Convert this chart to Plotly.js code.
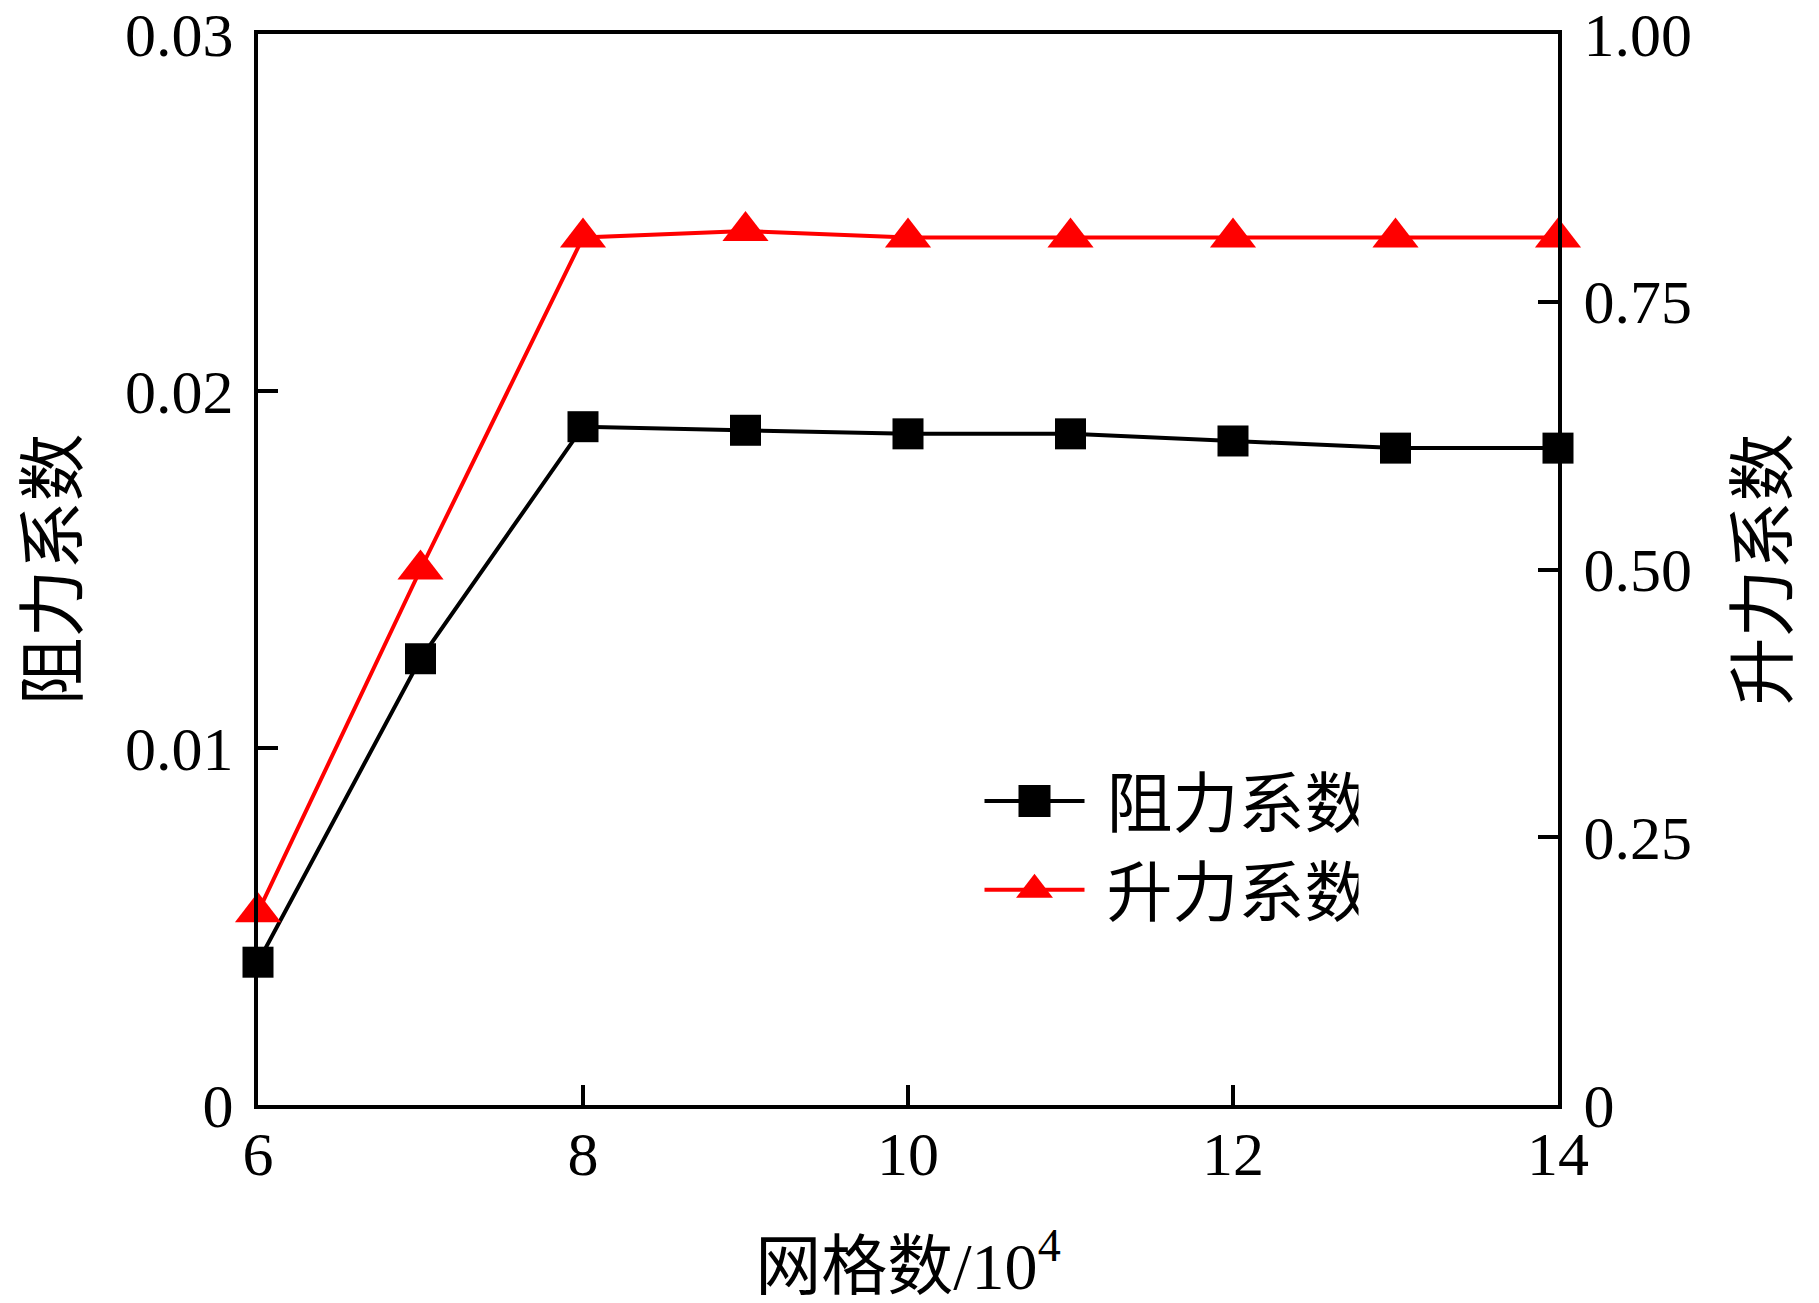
<!DOCTYPE html>
<html>
<head>
<meta charset="utf-8">
<script src="https://cdn.plot.ly/plotly-3.0.1.min.js"></script>
<style>
  body { margin: 0; background: #fff; }
  #chart { width: 1819px; height: 1303px; }
</style>
</head>
<body>
<div id="chart"></div>
<script>
// grid count (x10^4) and the two coefficients
const meshCounts = [6, 7, 8, 9, 10, 11, 12, 13, 14];
const dragCoef = [0.0040, 0.0125, 0.0190, 0.0189, 0.0188, 0.0188, 0.0186, 0.0184, 0.0184];
const liftCoef = [0.180, 0.500, 0.810, 0.816, 0.810, 0.810, 0.810, 0.810, 0.810];

const xTicks = [6, 8, 10, 12, 14];
const dragTicks = [0, 0.01, 0.02, 0.03];
const dragTickText = ['0', '0.01', '0.02', '0.03'];
const liftTicks = [0, 0.25, 0.5, 0.75, 1];
const liftTickText = ['0', '0.25', '0.50', '0.75', '1.00'];

const FONT = 'Liberation Serif, "Times New Roman", "Noto Sans CJK SC", serif';
const axisBase = {
    showline: true,
    linecolor: '#000',
    linewidth: 4,
    ticks: 'inside',
    ticklen: 20,
    tickwidth: 4,
    tickcolor: '#000',
    showgrid: false,
    zeroline: false,
    ticklabeloverflow: 'allow',
    tickfont: { family: FONT, size: 62, color: '#000' },
    fixedrange: true
};

const traces = [
    {
        type: 'scatter',
        mode: 'lines+markers',
        name: '阻力系数',
        x: meshCounts,
        y: dragCoef,
        yaxis: 'y',
        cliponaxis: false,
        line: { color: '#000', width: 4 },
        marker: { symbol: 'square', size: 31, color: '#000' }
    },
    {
        type: 'scatter',
        mode: 'lines+markers',
        name: '升力系数',
        x: meshCounts,
        y: liftCoef,
        yaxis: 'y2',
        cliponaxis: false,
        line: { color: '#ff0000', width: 4 },
        marker: { symbol: 'triangle-up', size: 40, color: '#ff0000' }
    }
];

const layout = {
    width: 1819,
    height: 1303,
    margin: { l: 258, r: 261, t: 34, b: 198 },
    paper_bgcolor: '#fff',
    plot_bgcolor: '#fff',
    font: { family: FONT, color: '#000' },
    showlegend: true,
    legend: {
        x: 0.555, xanchor: 'left',
        y: 0.33, yanchor: 'top',
        bgcolor: 'rgba(0,0,0,0)',
        borderwidth: 0,
        itemwidth: 100,
        tracegroupgap: 0,
        font: { family: FONT, size: 66, color: '#000' }
    },
    xaxis: {
        ...axisBase,
        mirror: true,
        range: [6, 14],
        tickvals: xTicks,
        ticklabelstandoff: -8,
        title: { text: '网格数/10<sup>4</sup>', font: { family: FONT, size: 66 }, standoff: 72 }
    },
    yaxis: {
        ...axisBase,
        range: [0, 0.03],
        tickvals: dragTicks,
        ticktext: dragTickText,
        ticklabelstandoff: 8,
        title: { text: '阻力系数', font: { family: FONT, size: 68 }, standoff: 26 }
    },
    yaxis2: {
        ...axisBase,
        overlaying: 'y',
        side: 'right',
        range: [0, 1],
        tickvals: liftTicks,
        ticktext: liftTickText,
        ticklabelstandoff: 9,
        title: { text: '升力系数', font: { family: FONT, size: 68 }, standoff: 49 }
    }
};

Plotly.newPlot('chart', traces, layout, { displayModeBar: false, staticPlot: true }).then(gd => {
    // legend markers are capped at 16px by plotly, enlarge to match the plot markers
    gd.querySelectorAll('.legend .legendpoints path.scatterpts').forEach(p => {
        const t = p.getAttribute('transform') || '';
        p.setAttribute('transform', t + ' scale(2)');
    });
    // a bit more room between legend symbol and its label, as in the figure
    gd.querySelectorAll('.legend text.legendtext').forEach(t => {
        t.setAttribute('transform', 'translate(17,0)');
    });
});
</script>
</body>
</html>
